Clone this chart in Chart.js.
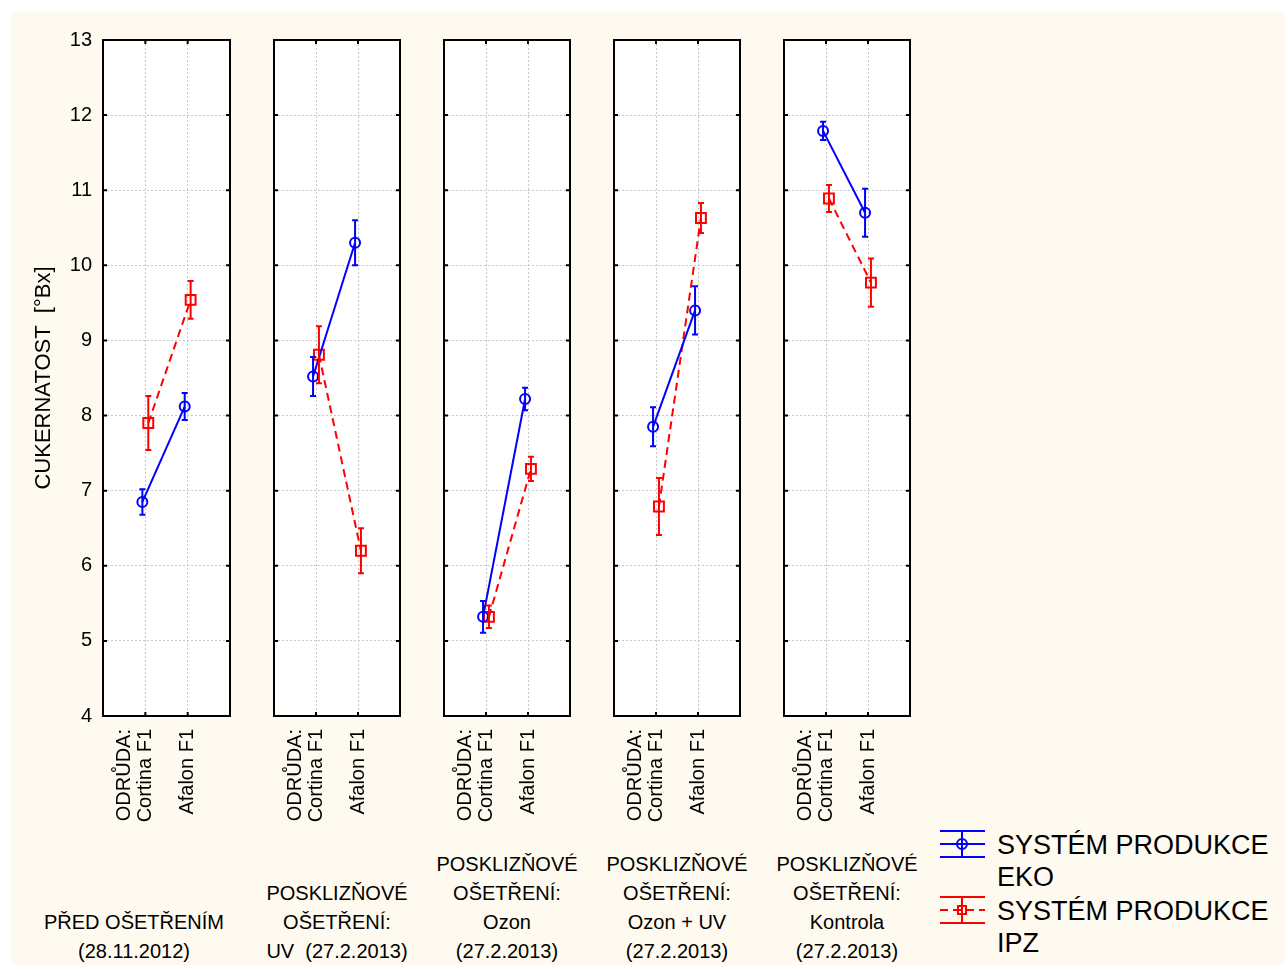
<!DOCTYPE html>
<html>
<head>
<meta charset="utf-8">
<script src="https://cdn.jsdelivr.net/npm/chart.js@4"></script>
<style>
  body { margin: 0; background: #fff; width: 1285px; height: 965px; position: relative; overflow: hidden; font-family: "Liberation Sans", Arial, sans-serif; }
  #bg { position: absolute; left: 11px; top: 12px; right: 0; bottom: 0; background: #fffaf0; }
  canvas.panel { position: absolute; }
  .group { position: absolute; width: 260px; text-align: center; font-size: 20px; line-height: 29px; color: #000; white-space: pre; }
  .legend { position: absolute; left: 938px; font-size: 27px; line-height: 32px; color: #000; }
  .legend canvas { position: absolute; left: 0; top: 0; }
  .legend span { position: absolute; left: 59px; top: 0; white-space: nowrap; }
</style>
</head>
<body>
<div id="bg"></div>

<script>
// categories and group labels
const varieties = [["ODRŮDA:", "Cortina F1"], ["", "Afalon F1"]];
const groups = [
  ["PŘED OŠETŘENÍM", "(28.11.2012)"],
  ["POSKLIZŇOVÉ", "OŠETŘENÍ:", "UV  (27.2.2013)"],
  ["POSKLIZŇOVÉ", "OŠETŘENÍ:", "Ozon", "(27.2.2013)"],
  ["POSKLIZŇOVÉ", "OŠETŘENÍ:", "Ozon + UV", "(27.2.2013)"],
  ["POSKLIZŇOVÉ", "OŠETŘENÍ:", "Kontrola", "(27.2.2013)"],
];
const seriesNames = ["SYSTÉM PRODUKCE\nEKO", "SYSTÉM PRODUKCE\nIPZ"];

// means per group: [Cortina, Afalon]
const ekoMeans = [[6.85, 8.12], [8.52, 10.30], [5.32, 8.22], [7.85, 9.40], [11.79, 10.70]];
const ekoErr   = [[0.17, 0.18], [0.26, 0.30], [0.21, 0.15], [0.26, 0.32], [0.12, 0.32]];
const ipzMeans = [[7.90, 9.54], [8.81, 6.20], [5.32, 7.29], [6.79, 10.63], [10.89, 9.77]];
const ipzErr   = [[0.36, 0.25], [0.38, 0.30], [0.15, 0.16], [0.38, 0.20], [0.18, 0.32]];

const yTicks = [4, 5, 6, 7, 8, 9, 10, 11, 12, 13];
const yTitle = "CUKERNATOST  [°Bx]";

const BLUE = "#0000ff", RED = "#ff0000";
const FONT = "'Liberation Sans', Arial, sans-serif";
const dodge = 0.07;

// layout of the five panels (chart area)
const areaTop = 40, areaBottom = 716, areaW = 128;
const panelLefts = [103, 273, 443, 613, 783];

// error bars + frame + inward ticks
const framePlugin = {
  id: "frame",
  afterDatasetsDraw(chart) {
    const ctx = chart.ctx;
    const {left, right, top, bottom} = chart.chartArea;
    const y = chart.scales.y, x = chart.scales.x;
    ctx.save();
    chart.data.datasets.forEach((ds, i) => {
      const meta = chart.getDatasetMeta(i);
      ctx.strokeStyle = ds.borderColor;
      ctx.lineWidth = 2;
      ctx.setLineDash([]);
      ds.data.forEach((d, j) => {
        const px = meta.data[j].x;
        const y1 = y.getPixelForValue(d.y + d.err);
        const y2 = y.getPixelForValue(d.y - d.err);
        ctx.beginPath();
        ctx.moveTo(px, y1); ctx.lineTo(px, y2);
        ctx.moveTo(px - 3, y1); ctx.lineTo(px + 3, y1);
        ctx.moveTo(px - 3, y2); ctx.lineTo(px + 3, y2);
        ctx.stroke();
      });
    });
    ctx.strokeStyle = "#000";
    ctx.lineWidth = 2;
    ctx.strokeRect(left, top, right - left, bottom - top);
    ctx.beginPath();
    yTicks.forEach(v => {
      const py = y.getPixelForValue(v);
      ctx.moveTo(left, py); ctx.lineTo(left + 4, py);
      ctx.moveTo(right, py); ctx.lineTo(right - 4, py);
    });
    x.ticks.forEach(t => {
      const px = x.getPixelForValue(t.value);
      ctx.moveTo(px, top); ctx.lineTo(px, top + 4);
      ctx.moveTo(px, bottom); ctx.lineTo(px, bottom - 4);
    });
    ctx.stroke();
    ctx.restore();
  }
};

const whiteArea = {
  id: "whiteArea",
  beforeDraw(chart) {
    const {left, right, top, bottom} = chart.chartArea;
    chart.ctx.save();
    chart.ctx.fillStyle = "#fff";
    chart.ctx.fillRect(left, top, right - left, bottom - top);
    chart.ctx.restore();
  }
};

const noPad = (s) => { s.paddingLeft = 0; s.paddingRight = 0; s.paddingTop = 0; s.paddingBottom = 0; };

function makePanel(g) {
  const first = g === 0;
  const canvas = document.createElement("canvas");
  canvas.className = "panel";
  const padL = 8, padR = 8, padTop = 15, xAxisH = 130, yAxisW = first ? 91 : 0;
  const cLeft = first ? 12 : panelLefts[g] - padL;
  const cTop = areaTop - padTop;
  const w = first ? (panelLefts[g] + areaW + padR - cLeft) : (areaW + padL + padR);
  const h = (areaBottom - cTop) + xAxisH;
  canvas.style.left = cLeft + "px";
  canvas.style.top = cTop + "px";
  canvas.style.width = w + "px";
  canvas.style.height = h + "px";
  canvas.width = w; canvas.height = h;
  document.body.appendChild(canvas);

  const pts = (means, errs, off) => means[g].map((m, j) => ({x: j + off, y: m, err: errs[g][j]}));

  new Chart(canvas.getContext("2d"), {
    type: "line",
    data: {
      datasets: [
        {
          label: seriesNames[0],
          data: pts(ekoMeans, ekoErr, -dodge),
          borderColor: BLUE, backgroundColor: "transparent",
          borderWidth: 2, pointStyle: "circle", pointRadius: 5,
          pointBorderWidth: 2, pointBackgroundColor: "transparent", pointBorderColor: BLUE,
        },
        {
          label: seriesNames[1],
          data: pts(ipzMeans, ipzErr, dodge),
          borderColor: RED, backgroundColor: "transparent", borderDash: [8, 5],
          borderWidth: 2, pointStyle: "rect", pointRadius: 7,
          pointBorderWidth: 2, pointBackgroundColor: "transparent", pointBorderColor: RED,
        },
      ],
    },
    options: {
      responsive: false,
      animation: false,
      tension: 0,
      layout: { padding: { left: first ? 0 : padL, right: padR, top: padTop, bottom: 0 } },
      plugins: { legend: { display: false }, tooltip: { enabled: false } },
      scales: {
        x: {
          type: "linear", min: -1, max: 2,
          afterBuildTicks: (s) => { s.ticks = varieties.map((_, i) => ({ value: i })); },
          afterFit: (s) => { s.height = xAxisH; noPad(s); },
          border: { display: false, dash: [2, 2] },
          grid: { color: "#c8c8c8", drawTicks: false },
          ticks: {
            callback: (v) => varieties[v],
            minRotation: 90, maxRotation: 90, autoSkip: false,
            padding: 13, labelOffset: -21,
            color: "#000", font: { family: FONT, size: 20, lineHeight: 1.05 },
          },
        },
        y: {
          min: 4, max: 13,
          afterBuildTicks: (s) => { s.ticks = yTicks.map(v => ({ value: v })); },
          afterFit: (s) => { s.width = yAxisW; noPad(s); },
          border: { display: false, dash: [2, 2] },
          grid: { color: "#c8c8c8", drawTicks: false },
          ticks: { display: first, padding: 11, color: "#000", font: { family: FONT, size: 20 } },
          title: {
            display: first, text: yTitle, color: "#000",
            font: { family: FONT, size: 22 }, padding: { top: 19, bottom: 0 },
          },
        },
      },
    },
    plugins: [whiteArea, framePlugin],
  });
}

groups.forEach((_, g) => makePanel(g));

// group captions under the panels
const captionCenters = [134, 337, 507, 677, 847];
groups.forEach((lines, g) => {
  const div = document.createElement("div");
  div.className = "group";
  div.textContent = lines.join("\n");
  div.style.left = (captionCenters[g] - 130) + "px";
  div.style.top = (951 - 14.5 - (lines.length - 1) * 29) + "px";
  document.body.appendChild(div);
});

// legend
const legendTops = [829, 895];
[BLUE, RED].forEach((col, i) => {
  const box = document.createElement("div");
  box.className = "legend";
  box.style.top = legendTops[i] + "px";
  const c = document.createElement("canvas");
  c.width = 50; c.height = 30;
  const ctx = c.getContext("2d");
  ctx.strokeStyle = col; ctx.lineWidth = 2;
  ctx.beginPath();
  ctx.moveTo(2, 2); ctx.lineTo(47, 2);
  ctx.moveTo(2, 28); ctx.lineTo(47, 28);
  ctx.moveTo(24, 2); ctx.lineTo(24, 28);
  ctx.stroke();
  if (i === 1) ctx.setLineDash([8, 5]);
  ctx.beginPath();
  ctx.moveTo(2, 15); ctx.lineTo(47, 15);
  ctx.stroke();
  ctx.setLineDash([]);
  ctx.beginPath();
  if (i === 0) ctx.arc(24, 15, 5, 0, Math.PI * 2);
  else ctx.rect(20, 11, 8, 8);
  ctx.stroke();
  box.appendChild(c);
  const span = document.createElement("span");
  span.innerHTML = seriesNames[i].replace("\n", "<br>");
  box.appendChild(span);
  document.body.appendChild(box);
});
</script>
</body>
</html>
